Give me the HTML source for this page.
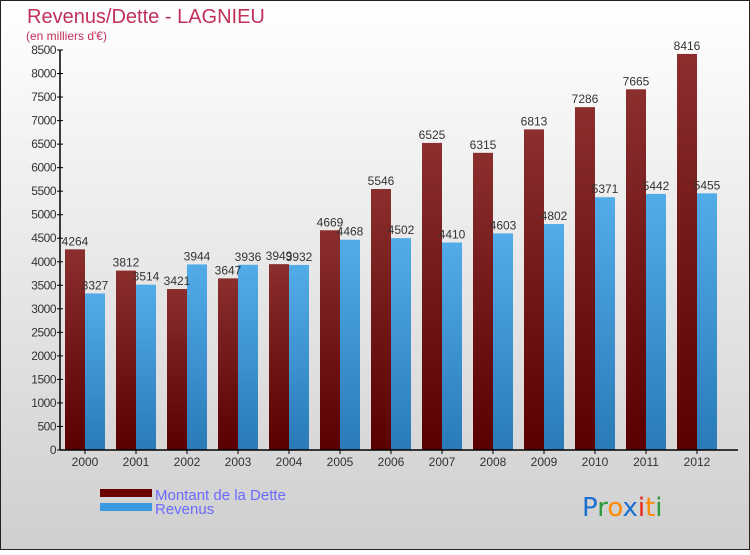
<!DOCTYPE html>
<html><head><meta charset="utf-8"><style>
body{margin:0;width:750px;height:550px;overflow:hidden;font-family:"Liberation Sans",sans-serif}
</style></head><body>
<svg id="c" width="750" height="550" xmlns="http://www.w3.org/2000/svg">
<defs>
<linearGradient id="bg" x1="0" y1="0" x2="0" y2="1"><stop offset="0" stop-color="#ffffff"/><stop offset="1" stop-color="#cfcfcf"/></linearGradient>
<linearGradient id="gd" x1="0" y1="0" x2="0" y2="1"><stop offset="0" stop-color="#8a2e2e"/><stop offset="1" stop-color="#5a0000"/></linearGradient>
<linearGradient id="gr" x1="0" y1="0" x2="0" y2="1"><stop offset="0" stop-color="#52ace8"/><stop offset="1" stop-color="#2a7ab8"/></linearGradient>
</defs>
<rect x="0.5" y="0.5" width="749" height="549" fill="url(#bg)" stroke="#222"/>
<text x="27" y="23" font-size="20" fill="#c0305a">Revenus/Dette - LAGNIEU</text>
<text x="26" y="40" font-size="12" fill="#c0305a">(en milliers d'€)</text>
<g id="bars"></g>
<g id="axes"></g>
<rect x="100" y="489" width="52" height="8" fill="#6a0000"/>
<rect x="100" y="503" width="52" height="8" fill="#3a9ae0"/>
<text x="155" y="500" font-size="15" fill="#6a6aff">Montant de la Dette</text>
<text x="155" y="514" font-size="15" fill="#6a6aff">Revenus</text>
<g font-size="26" font-family="DejaVu Sans, sans-serif">
<text x="582" y="516"><tspan fill="#1a6fcf">P</tspan><tspan fill="#2a9a3a">r</tspan><tspan fill="#ff8a00">o</tspan><tspan fill="#1a6fcf">x</tspan><tspan fill="#e8261a">i</tspan><tspan fill="#ff8a00">t</tspan><tspan fill="#2a9a3a">i</tspan></text>
</g>
</svg>
<script>
const years=["2000","2001","2002","2003","2004","2005","2006","2007","2008","2009","2010","2011","2012"];
const dette=[4264,3812,3421,3647,3949,4669,5546,6525,6315,6813,7286,7665,8416];
const revenus=[3327,3514,3944,3936,3932,4468,4502,4410,4603,4802,5371,5442,5455];
const yTicks=[0,500,1000,1500,2000,2500,3000,3500,4000,4500,5000,5500,6000,6500,7000,7500,8000,8500];
const NS="http://www.w3.org/2000/svg";
const y0=450,yTop=50,yMax=8500;
function y(v){return y0-(v/yMax)*(y0-yTop);}
function xc(i){return 85+i*51;}
function mk(tag,attrs,parent,txt){const e=document.createElementNS(NS,tag);for(const k in attrs)e.setAttribute(k,attrs[k]);if(txt!==undefined)e.textContent=txt;parent.appendChild(e);return e;}
const bars=document.getElementById('bars'),axes=document.getElementById('axes');
years.forEach((yr,i)=>{
  const c=xc(i);
  const b1=mk('rect',{x:c-20,y:y(dette[i]),width:20,height:y0-y(dette[i]),fill:'url(#gd)'},bars);
  
  
  const b2=mk('rect',{x:c,y:y(revenus[i]),width:20,height:y0-y(revenus[i]),fill:'url(#gr)'},bars);
  
  
  const l1=mk('text',{x:c-10,y:y(dette[i])-4,'font-size':12,fill:'#333','text-anchor':'middle'},bars,dette[i]);
  
  
  const l2=mk('text',{x:c+10,y:y(revenus[i])-4,'font-size':12,fill:'#333','text-anchor':'middle'},bars,revenus[i]);
  
  
  const t=mk('text',{x:c,y:466,'font-size':12,fill:'#333','text-anchor':'middle'},axes,yr);
  
  
  mk('line',{x1:c,y1:450,x2:c,y2:454,stroke:'#000'},axes);
});
const ya=mk('line',{x1:60,y1:y(yMax),x2:60,y2:y0,stroke:'#000','stroke-width':1.5},axes);


const xa=mk('line',{x1:60,y1:y0,x2:738,y2:y0,stroke:'#000','stroke-width':1.5},axes);


yTicks.forEach(v=>{
  mk('line',{x1:57,y1:y(v),x2:63,y2:y(v),stroke:'#000'},axes);
  const t=mk('text',{x:56,y:y(v)+4,'font-size':12,fill:'#333','text-anchor':'end','letter-spacing':'-0.5'},axes,v);
  
  
});
</script>
</body></html>
